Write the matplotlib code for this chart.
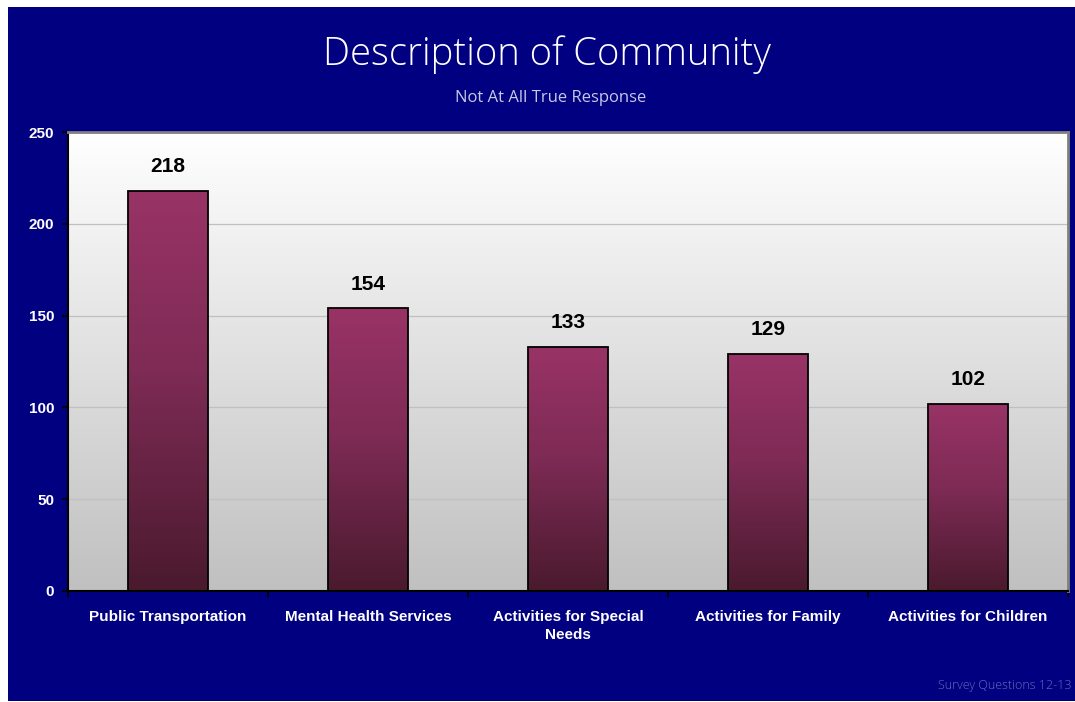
import matplotlib.pyplot as plt
import numpy as np
from matplotlib.colors import LinearSegmentedColormap
from matplotlib.patches import Rectangle

categories = ["Public Transportation", "Mental Health Services",
              "Activities for Special\nNeeds", "Activities for Family",
              "Activities for Children"]
counts = [218, 154, 133, 129, 102]
yticks = [0, 50, 100, 150, 200, 250]

navy = "#000080"
fig = plt.figure(figsize=(10.75, 7.02), dpi=100)
fig.patch.set_facecolor("white")
fig.add_artist(Rectangle((8 / 1075, 1 / 702), 1 - 8 / 1075, 694 / 702,
                         transform=fig.transFigure, facecolor=navy,
                         edgecolor="none", zorder=-10))

ax = fig.add_axes([68 / 1075, 111 / 702, 1000 / 1075, 459 / 702])
ax.set_xlim(-0.5, len(counts) - 0.5)
ax.set_ylim(0, 250)

# plot area: white at the top fading to silver
bg = LinearSegmentedColormap.from_list("bg", ["#c0c0c0", "#ffffff"])
ax.imshow(np.linspace(0, 1, 256).reshape(-1, 1), cmap=bg, aspect="auto",
          extent=[-0.5, len(counts) - 0.5, 0, 250], origin="lower", zorder=0)

for y in yticks[1:-1]:
    ax.axhline(y, color="#c0c0c0", lw=0.9, zorder=1)

barmap = LinearSegmentedColormap.from_list(
    "bar", [(0, "#4a1a2e"), (0.55, "#7e2b55"), (1, "#993366")])
x = np.arange(len(counts))
bars = ax.bar(x, counts, width=0.4, facecolor="none", edgecolor="black",
              lw=1.3, zorder=3)
for b, v in zip(bars, counts):
    im = ax.imshow(np.linspace(0, 1, 256).reshape(-1, 1), cmap=barmap,
                   aspect="auto", origin="lower", zorder=2,
                   extent=[b.get_x(), b.get_x() + b.get_width(), 0, v])
    im.set_clip_path(b)
    ax.text(b.get_x() + b.get_width() / 2, v + 8, str(v), ha="center",
            va="bottom", fontsize=15, fontweight="bold", color="black",
            family="Liberation Sans")

ax.set_yticks(yticks)
ax.set_yticklabels([str(t) for t in yticks], fontsize=11, fontweight="bold",
                   color="white", family="Liberation Sans")
ax.set_xticks(np.arange(len(counts) + 1) - 0.5)
ax.set_xticklabels([])
ax.set_xticks(x, minor=True)
ax.set_xticklabels(categories, minor=True, fontsize=11, fontweight="bold",
                   color="white", family="Liberation Sans", linespacing=1.3)
ax.tick_params(axis="x", which="minor", length=0, pad=14)
ax.tick_params(axis="x", which="major", length=4, width=1.3, color="black")
ax.tick_params(axis="y", length=4, width=1.3, color="black", pad=6)

for side in ("top", "right"):
    ax.spines[side].set_color("#808080")
    ax.spines[side].set_linewidth(2)
for side in ("left", "bottom"):
    ax.spines[side].set_color("black")
    ax.spines[side].set_linewidth(1.5)

fig.text(547 / 1075, 1 - 55 / 702, "Description of Community", ha="center",
         va="center", fontsize=27.5, color="white", family="Open Sans",
         fontweight="light")
fig.text(551 / 1075, 1 - 98 / 702, "Not At All True Response", ha="center",
         va="center", fontsize=12, color="#c8c8e8", family="Open Sans")
fig.text(1071 / 1075, 1 - 685 / 702, "Survey Questions 12-13", ha="right",
         va="center", fontsize=9, color="#6a6ab8", family="Open Sans",
         fontweight="light")

fig.savefig("out.png", dpi=100, facecolor=fig.get_facecolor())
